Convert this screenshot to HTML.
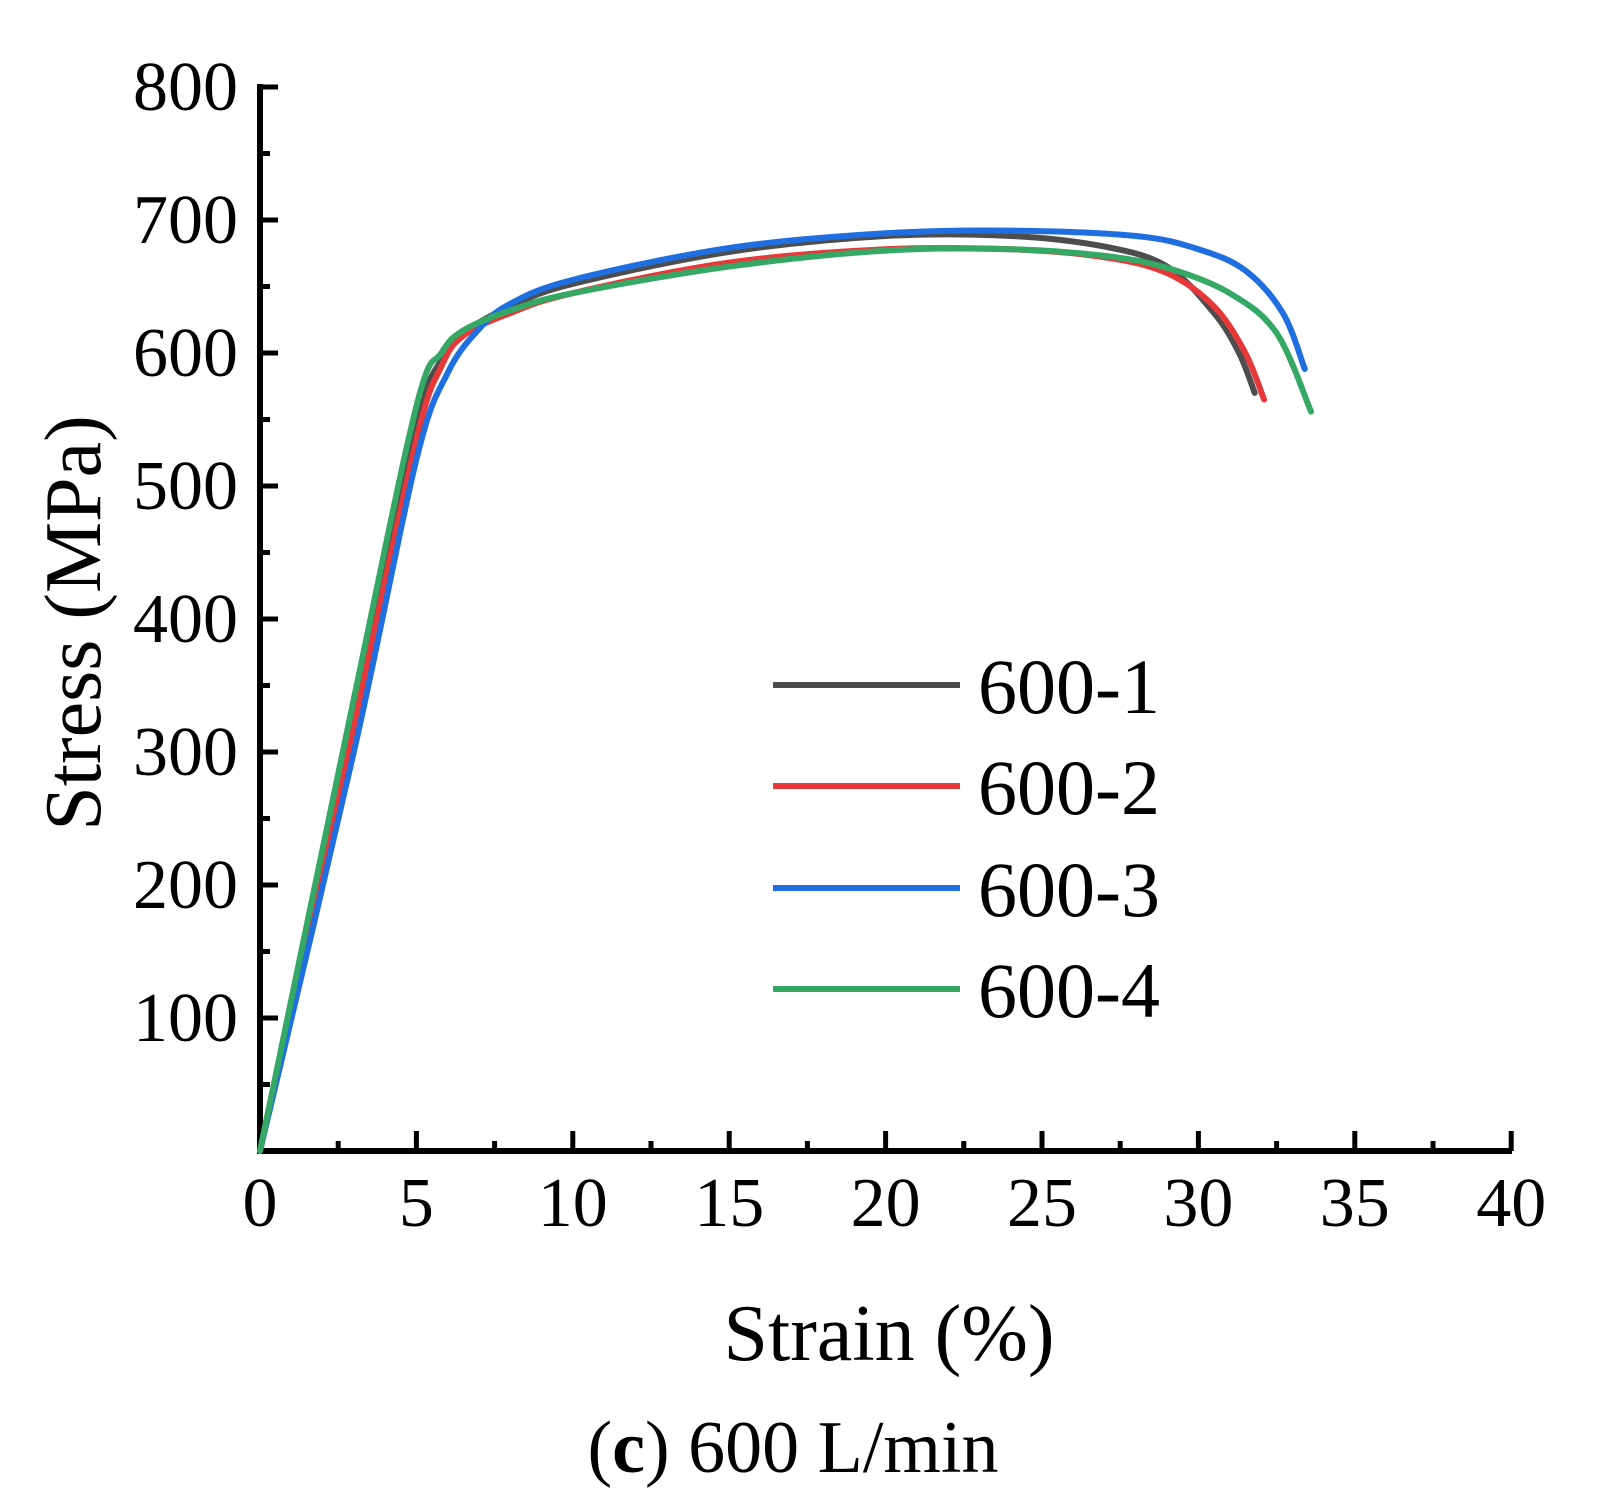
<!DOCTYPE html><html><head><style>body{margin:0;background:#fff}svg{display:block}</style></head><body>
<svg id="s" width="1604" height="1500" xmlns="http://www.w3.org/2000/svg" font-family="Liberation Serif, serif">
<g stroke="#000" stroke-width="6" fill="none">
<path d="M260,84 V1151 H1512"/>
</g>
<g id="ticks" stroke="#000" stroke-width="5"></g>
<g id="lab" font-size="70" fill="#000"></g>
<g id="curves" fill="none" stroke-width="6" stroke-linecap="round" stroke-linejoin="round"></g>
<g stroke-width="6">
<line x1="773" y1="685" x2="960" y2="685" stroke="#4d4d4d"/>
<line x1="773" y1="786" x2="960" y2="786" stroke="#e8393a"/>
<line x1="773" y1="888" x2="960" y2="888" stroke="#1f6fe0"/>
<line x1="773" y1="989" x2="960" y2="989" stroke="#35a865"/>
</g>
<g font-size="78" fill="#000">
<text x="978" y="713">600-1</text>
<text x="978" y="814">600-2</text>
<text x="978" y="916">600-3</text>
<text x="978" y="1017">600-4</text>
</g>
<text x="889" y="1360" font-size="80" text-anchor="middle">Strain (%)</text>
<text transform="translate(100,623) rotate(-90)" font-size="80" text-anchor="middle">Stress (MPa)</text>
<text x="793" y="1472" font-size="74" text-anchor="middle">(<tspan font-weight="bold">c</tspan>) 600 L/min</text>
</svg>
<script>
const X=e=>260+e*31.28,Y=s=>1151-s*1.33,NS="http://www.w3.org/2000/svg";
const t=document.getElementById('ticks'),l=document.getElementById('lab'),c=document.getElementById('curves');
function el(p,n,a,txt){const e=document.createElementNS(NS,n);for(const k in a)e.setAttribute(k,a[k]);if(txt!==undefined)e.textContent=String(txt);p.appendChild(e);}
for(let v=50;v<=800;v+=50){const y=Y(v),maj=v%100==0;el(t,'line',{x1:260,y1:y,x2:260+(maj?18:10),y2:y});if(maj)el(l,'text',{x:238,y:y+23,'text-anchor':'end'},v);}
for(let e=2.5;e<=40;e+=2.5){const x=X(e),maj=e%5==0;el(t,'line',{x1:x,y1:1151,x2:x,y2:1151-(maj?20:10)});}
for(let e=0;e<=40;e+=5)el(l,'text',{x:X(e),y:1226,'text-anchor':'middle'},e);
const D={"#4d4d4d":[[0,0],[3,330],[5,545],[5.8,595],[6.5,615],[8,635],[10,652],[15,676],[20,688],[24,688],[27,680],[29,665],[30.5,630],[31.3,600],[31.8,570]],
"#e8393a":[[0,0],[3,320],[5,535],[5.8,590],[6.5,613],[8,630],[10,645],[15,668],[20,678],[24,678],[27,672],[29,660],[30.5,635],[31.5,600],[32.1,565]],
"#1f6fe0":[[0,0],[3,300],[5,520],[6,585],[7,618],[8,637],[10,655],[15,679],[20,690],[24,692],[28,688],[30,678],[31.5,662],[32.7,630],[33.4,588]],
"#35a865":[[0,0],[3,340],[5,560],[5.8,600],[6.5,617],[8,632],[10,645],[15,665],[20,677],[24,678],[27,673],[29,664],[31,645],[32.5,615],[33.6,556]]};
for(const col in D){const p=D[col].map(([a,b])=>[X(a),Y(b)]);let d="M"+p[0];for(let i=0;i<p.length-1;i++){const p0=p[i-1]||p[i],p1=p[i],p2=p[i+1],p3=p[i+2]||p2;
d+=` C${p1[0]+(p2[0]-p0[0])/6},${p1[1]+(p2[1]-p0[1])/6} ${p2[0]-(p3[0]-p1[0])/6},${p2[1]-(p3[1]-p1[1])/6} ${p2[0]},${p2[1]}`;}
el(c,'path',{d:d,stroke:col});}
</script>
</body></html>
